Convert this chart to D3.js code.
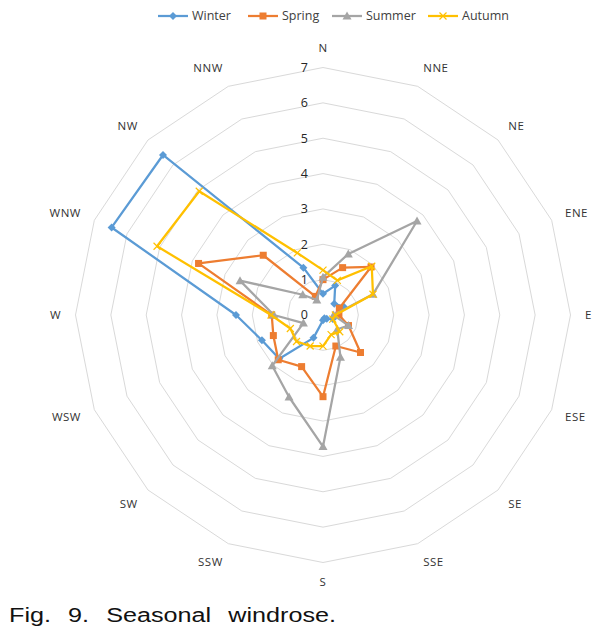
<!DOCTYPE html>
<html>
<head>
<meta charset="utf-8">
<script src="https://cdn.jsdelivr.net/npm/d3@7"></script>
<style>
html,body{margin:0;padding:0;background:#fff;}
svg{display:block;}
</style>
</head>
<body>
<svg id="chart" width="612" height="636"></svg>
<script>
// ---- data ----
const directions = ["N","NNE","NE","ENE","E","ESE","SE","SSE","S","SSW","SW","WSW","W","WNW","NW","NNW"];
const seriesNames = ["Winter","Spring","Summer","Autumn"];
const winter = [0.6,0.9,0.45,0.63,0.4,0.3,0.15,0.1,0.15,0.7,1.75,1.87,2.46,6.47,6.4,1.45];
const spring = [1.0,1.45,1.92,0.5,0.45,0.78,1.5,0.95,2.31,1.58,1.79,1.52,1.45,3.81,2.39,0.57];
const summer = [1.07,1.87,3.76,1.53,0.3,0.78,0.57,1.29,3.72,2.51,2.03,0.6,1.39,2.54,0.81,0.46];
const autumn = [1.27,1.06,1.95,1.53,0.35,0.3,0.67,0.6,0.88,0.95,1.06,1.0,1.47,5.08,4.95,1.9];
const tickValues = [0,1,2,3,4,5,6,7];
const caption = "Fig. 9. Seasonal windrose.";

const colors = {Winter:"#5B9BD5", Spring:"#ED7D31", Summer:"#A5A5A5", Autumn:"#FFC000"};
const markers = {Winter:"diamond", Spring:"square", Summer:"triangle", Autumn:"cross"};
const allData = {Winter:winter, Spring:spring, Summer:summer, Autumn:autumn};

// ---- layout ----
const svg = d3.select("#chart");
const cx = 323, cy = 315, R = 247.5;
const r = d3.scaleLinear().domain([0,7]).range([0,R]);
const ang = d3.scaleLinear().domain([0, directions.length]).range([0, 2*Math.PI]);
const g = svg.append("g").attr("transform", `translate(${cx},${cy})`);

// grid rings
const ringLine = d3.lineRadial().angle((d,i)=>ang(i)).radius(d=>r(d)).curve(d3.curveLinearClosed);
tickValues.filter(t=>t>0).forEach(t=>{
  g.append("path").attr("d", ringLine(directions.map(()=>t)))
   .attr("fill","none").attr("stroke","#d9d9d9").attr("stroke-width",1);
});

// category labels
directions.forEach((d,i)=>{
  const a = ang(i), s = Math.sin(a), c = Math.cos(a);
  const rr = 262;
  let x = s*rr, y = -c*rr - c*5;
  const anchor = s > 0.1 ? "start" : (s < -0.1 ? "end" : "middle");
  g.append("text").attr("x", x).attr("y", y).attr("dy","0.35em")
   .attr("text-anchor", anchor)
   .attr("font-family","Open Sans, Noto Sans, sans-serif").attr("font-size",11.5)
   .attr("fill","#333").attr("letter-spacing","0.5").text(d);
});

// value labels
tickValues.forEach(t=>{
  g.append("text").attr("x",-15).attr("y",-r(t)).attr("dy","0.35em")
   .attr("text-anchor","end")
   .attr("font-family","Open Sans, Noto Sans, sans-serif").attr("font-size",12.5)
   .attr("fill","#262626").text(t);
});

// marker drawing
function drawMarker(sel, type, color, size){
  const h = size/2;
  if(type==="diamond"){
    sel.append("path").attr("d",`M0,${-h-0.5}L${h+0.5},0L0,${h+0.5}L${-h-0.5},0Z`).attr("fill",color);
  } else if(type==="square"){
    sel.append("rect").attr("x",-h).attr("y",-h).attr("width",size).attr("height",size).attr("fill",color);
  } else if(type==="triangle"){
    sel.append("path").attr("d",`M0,${-h-1}L${h+1},${h}L${-h-1},${h}Z`).attr("fill",color);
  } else {
    sel.append("path").attr("d",`M${-h},${-h}L${h},${h}M${-h},${h}L${h},${-h}`)
     .attr("stroke",color).attr("stroke-width",1.2).attr("fill","none");
  }
}

// series
const seriesLine = d3.lineRadial().angle((d,i)=>ang(i)).radius(d=>r(d)).curve(d3.curveLinearClosed);
seriesNames.forEach(name=>{
  const vals = allData[name];
  const col = colors[name];
  g.append("path").attr("d", seriesLine(vals)).attr("fill","none")
   .attr("stroke", col).attr("stroke-width",2.25).attr("stroke-linejoin","round");
  vals.forEach((v,i)=>{
    const a = ang(i);
    const m = g.append("g").attr("transform",`translate(${Math.sin(a)*r(v)},${-Math.cos(a)*r(v)})`);
    drawMarker(m, markers[name], col, 7);
  });
});

// legend
const legendX = [158, 248, 332, 428];
seriesNames.forEach((name,i)=>{
  const lg = svg.append("g").attr("transform",`translate(${legendX[i]},16)`);
  lg.append("line").attr("x1",0).attr("x2",30).attr("y1",0).attr("y2",0)
    .attr("stroke",colors[name]).attr("stroke-width",2.25);
  const m = lg.append("g").attr("transform","translate(15,0)");
  drawMarker(m, markers[name], colors[name], 7);
  lg.append("text").attr("x",34).attr("y",0).attr("dy","0.35em")
    .attr("font-family","Open Sans, Noto Sans, sans-serif").attr("font-size",12.5)
    .attr("fill","#404040").text(name);
});

// caption
svg.append("text").attr("x",9).attr("y",622)
  .attr("font-family","Liberation Sans, Arial, sans-serif").attr("font-size",20)
  .attr("fill","#111").attr("textLength",327).attr("lengthAdjust","spacingAndGlyphs")
  .attr("word-spacing","8")
  .text(caption);
</script>
</body>
</html>
